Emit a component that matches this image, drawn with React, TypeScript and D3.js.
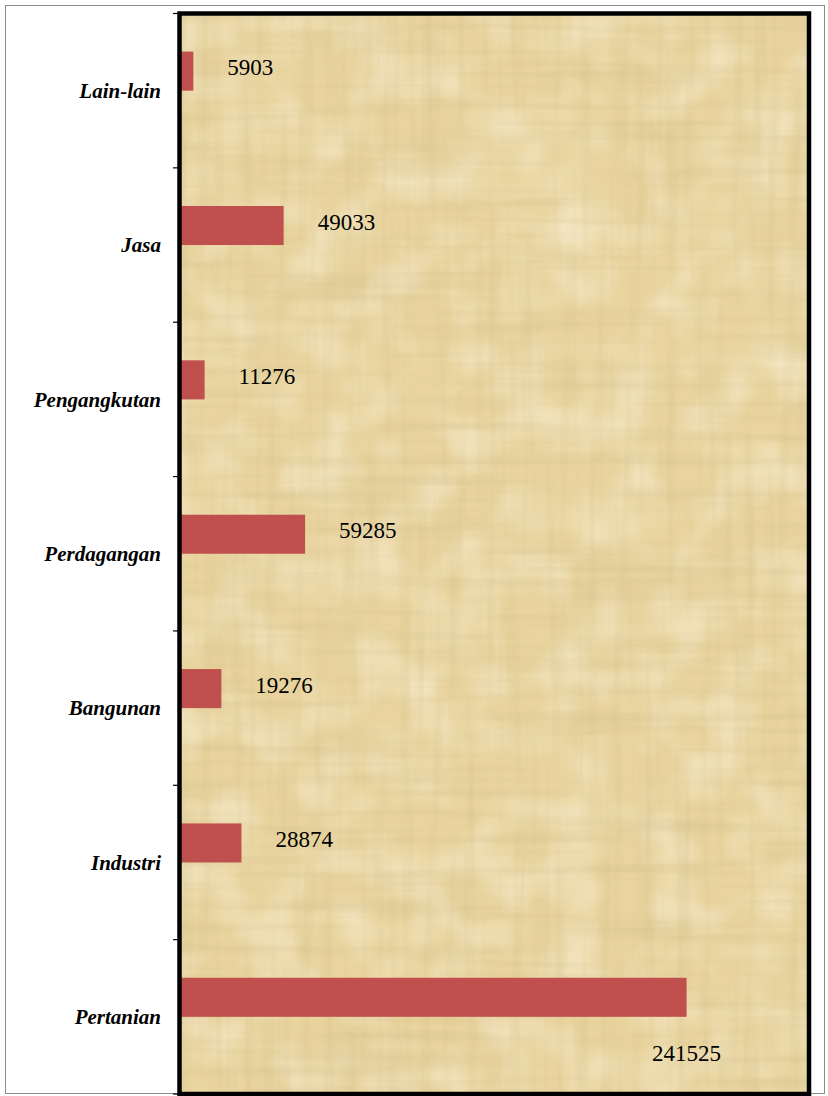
import React from "react";
import * as d3 from "d3";

const categories = ["Pertanian", "Industri", "Bangunan", "Perdagangan", "Pengangkutan", "Jasa", "Lain-lain"];
const values = [241525, 28874, 19276, 59285, 11276, 49033, 5903];
const xDomainMax = 300000;

const W = 828;
const H = 1096;
const plot = { left: 179.5, top: 13.5, right: 809, bottom: 1094 };
const BAR_COLOR = "#C0504D";
const SERIF = "'Liberation Serif', 'Times New Roman', serif";

export default function App() {
  const x = d3.scaleLinear().domain([0, xDomainMax]).range([181, plot.right]);
  const y = d3
    .scaleBand<string>()
    .domain([...categories].reverse())
    .range([plot.top, plot.bottom])
    .paddingInner(0)
    .paddingOuter(0);
  const bw = y.bandwidth();
  const barH = bw * 0.253;
  const maxV = d3.max(values) as number;
  const tickYs = [...y.domain().map((c) => y(c) as number), plot.bottom];

  return (
    <svg width={W} height={H} style={{ position: "absolute", left: 0, top: 0 }}>
      <defs>
        <filter id="fibH" x="0" y="0" width="100%" height="100%">
          <feTurbulence type="fractalNoise" baseFrequency="0.004 0.09" numOctaves={3} seed={3} />
          <feColorMatrix type="matrix" values="0 0 0 0 0.6  0 0 0 0 0.48  0 0 0 0 0.22  1.4 0 0 0 -0.62" />
        </filter>
        <filter id="fibV" x="0" y="0" width="100%" height="100%">
          <feTurbulence type="fractalNoise" baseFrequency="0.09 0.004" numOctaves={3} seed={7} />
          <feColorMatrix type="matrix" values="0 0 0 0 0.6  0 0 0 0 0.48  0 0 0 0 0.22  1.4 0 0 0 -0.62" />
        </filter>
        <filter id="fibL" x="0" y="0" width="100%" height="100%">
          <feTurbulence type="fractalNoise" baseFrequency="0.02 0.02" numOctaves={2} seed={11} />
          <feColorMatrix type="matrix" values="0 0 0 0 1  0 0 0 0 0.97  0 0 0 0 0.85  1.5 0 0 0 -0.6" />
        </filter>
      </defs>

      <rect x={0} y={0} width={W} height={H} fill="#ffffff" />
      <rect x={5.5} y={5.5} width={819} height={1088} fill="none" stroke="#8c8c8c" strokeWidth={1} />

      {/* papyrus plot area */}
      <rect x={plot.left} y={plot.top} width={plot.right - plot.left} height={plot.bottom - plot.top} fill="#E9D49F" />
      <rect x={plot.left} y={plot.top} width={plot.right - plot.left} height={plot.bottom - plot.top} filter="url(#fibL)" opacity={0.6} />
      <rect x={plot.left} y={plot.top} width={plot.right - plot.left} height={plot.bottom - plot.top} filter="url(#fibH)" opacity={0.45} />
      <rect x={plot.left} y={plot.top} width={plot.right - plot.left} height={plot.bottom - plot.top} filter="url(#fibV)" opacity={0.4} />

      {/* bars */}
      {categories.map((c, i) => (
        <rect
          key={c}
          x={x(0)}
          y={(y(c) as number) + bw / 2 - barH}
          width={x(values[i]) - x(0)}
          height={barH}
          fill={BAR_COLOR}
        />
      ))}

      {/* value labels */}
      {categories.map((c, i) => {
        const v = values[i];
        const barTop = (y(c) as number) + bw / 2 - barH;
        if (v === maxV) {
          return (
            <text key={c} x={x(v)} y={barTop + barH + 44} textAnchor="middle" fontFamily={SERIF} fontSize={23} fill="#000">
              {v}
            </text>
          );
        }
        return (
          <text key={c} x={x(v) + 34} y={barTop + barH / 2 + 4} textAnchor="start" fontFamily={SERIF} fontSize={23} fill="#000">
            {v}
          </text>
        );
      })}

      {/* plot border */}
      <rect x={plot.left} y={plot.top} width={plot.right - plot.left} height={plot.bottom - plot.top} fill="none" stroke="#000" strokeWidth={4.5} />

      {/* category ticks */}
      {tickYs.map((t, i) => (
        <line key={i} x1={173} x2={178} y1={t} y2={t} stroke="#000" strokeWidth={1.2} />
      ))}

      {/* category labels */}
      {y.domain().map((c) => (
        <text
          key={c}
          x={161}
          y={(y(c) as number) + bw / 2}
          dy="0.35em"
          textAnchor="end"
          fontFamily={SERIF}
          fontSize={21}
          fontWeight="bold"
          fontStyle="italic"
          fill="#000"
        >
          {c}
        </text>
      ))}
    </svg>
  );
}
